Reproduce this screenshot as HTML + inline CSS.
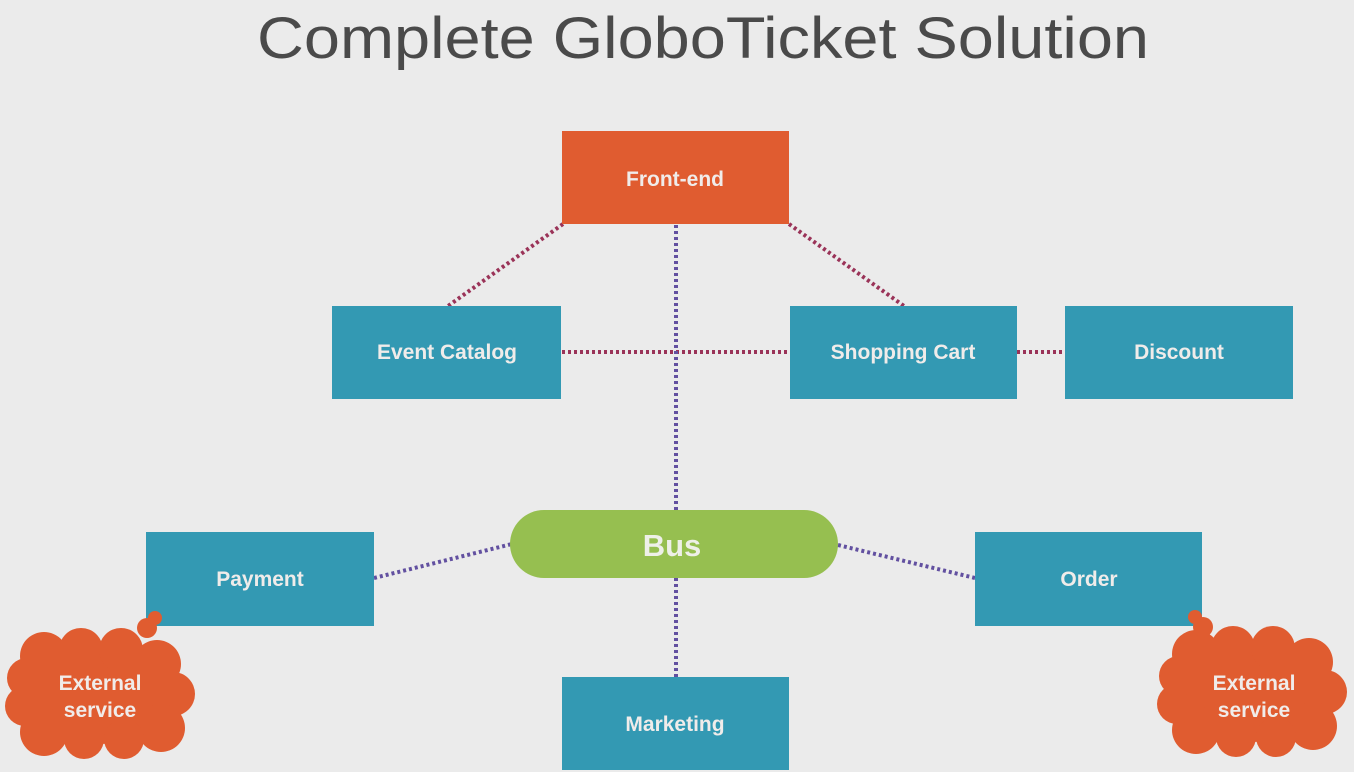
<!DOCTYPE html>
<html><head><meta charset="utf-8"><style>
html,body{margin:0;padding:0;background:#ebebeb;}
svg{display:block;}
text{font-family:"Liberation Sans",sans-serif;}
</style></head><body>
<svg width="1354" height="772" viewBox="0 0 1354 772">
<rect width="1354" height="772" fill="#ebebeb"/>
<text x="703" y="58" text-anchor="middle" font-size="58" fill="#4a4a4a" font-weight="300" textLength="892" lengthAdjust="spacingAndGlyphs">Complete GloboTicket Solution</text>
<defs>
<g id="cloud">
<ellipse cx="0" cy="0" rx="80" ry="50"/>
<circle cx="-55" cy="-38" r="24"/>
<circle cx="-18" cy="-44" r="22"/>
<circle cx="22" cy="-44" r="22"/>
<circle cx="58" cy="-30" r="24"/>
<circle cx="74" cy="0" r="22"/>
<circle cx="62" cy="34" r="24"/>
<circle cx="25" cy="45" r="20"/>
<circle cx="-15" cy="45" r="20"/>
<circle cx="-55" cy="38" r="24"/>
<circle cx="-74" cy="12" r="20"/>
<circle cx="-72" cy="-16" r="20"/>
</g>
</defs>
<g stroke-width="4" fill="none" stroke-dasharray="3 3">
<line x1="563" y1="224" x2="448" y2="306" stroke="#9a3358"/>
<line x1="789" y1="224" x2="904" y2="306" stroke="#9a3358"/>
<line x1="562" y1="352" x2="790" y2="352" stroke="#9a3358"/>
<line x1="1017" y1="352" x2="1065" y2="352" stroke="#9a3358"/>
<line x1="676" y1="225" x2="676" y2="510" stroke="#6250a0"/>
<line x1="676" y1="578" x2="676" y2="677" stroke="#6250a0"/>
<line x1="374" y1="578" x2="512" y2="544" stroke="#6250a0"/>
<line x1="838" y1="545" x2="975" y2="578" stroke="#6250a0"/>
</g>
<rect x="562" y="131" width="227" height="93" fill="#e05c30"/>
<rect x="332" y="306" width="229" height="93" fill="#3399b3"/>
<rect x="790" y="306" width="227" height="93" fill="#3399b3"/>
<rect x="1065" y="306" width="228" height="93" fill="#3399b3"/>
<rect x="146" y="532" width="228" height="94" fill="#3399b3"/>
<rect x="975" y="532" width="227" height="94" fill="#3399b3"/>
<rect x="562" y="677" width="227" height="93" fill="#3399b3"/>
<rect x="510" y="510" width="328" height="68" rx="34" fill="#96bf50"/>
<g fill="#e05c30">
<use href="#cloud" transform="translate(99,694)"/>
<circle cx="147" cy="628" r="10"/><circle cx="155" cy="618" r="7"/>
<use href="#cloud" transform="translate(1251,692)"/>
<circle cx="1203" cy="627" r="10"/><circle cx="1195" cy="617" r="7"/>
</g>
<g fill="#f0ecea" font-weight="bold" font-size="21" text-anchor="middle">
<text x="675" y="186">Front-end</text>
<text x="447" y="359">Event Catalog</text>
<text x="903" y="359">Shopping Cart</text>
<text x="1179" y="359">Discount</text>
<text x="260" y="586">Payment</text>
<text x="1089" y="586">Order</text>
<text x="675" y="731">Marketing</text>
<text x="100" y="690">External</text>
<text x="100" y="717">service</text>
<text x="1254" y="690">External</text>
<text x="1254" y="717">service</text>
<text x="672" y="556" font-size="31" fill="#eef0e8">Bus</text>
</g>
</svg>
</body></html>
